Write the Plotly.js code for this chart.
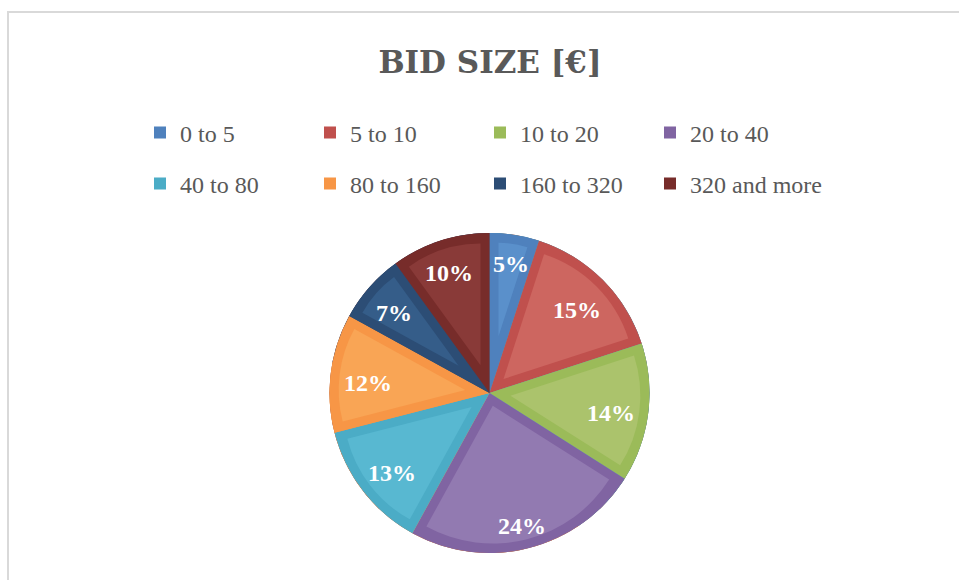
<!DOCTYPE html>
<html>
<head>
<meta charset="utf-8">
<script src="https://cdn.plot.ly/plotly-3.0.1.min.js"></script>
<style>
  html, body { margin: 0; padding: 0; background: #ffffff; }
  #chart { width: 959px; height: 580px; }
</style>
</head>
<body>
<div id="chart"></div>
<script>
// ---- data ----
const titleText = 'BID SIZE [€]';
const labels = ['0 to 5', '5 to 10', '10 to 20', '20 to 40', '40 to 80', '80 to 160', '160 to 320', '320 and more'];
const values = [5, 15, 14, 24, 13, 12, 7, 10];
const bandColors = ['#4F81BD', '#C0504D', '#9BBB59', '#8064A2', '#4BACC6', '#F79646', '#2C4D75', '#772C2A'];
const fillColors = ['#5A90CB', '#CD6660', '#ABC36C', '#927AB1', '#58B8D1', '#F9A555', '#355D89', '#893A38'];

// ---- geometry (figure pixels) ----
const W = 959, H = 580;
const CX = 489.5, CY = 393, R = 160, BAND = 9;
const LABEL_SIZE = 24, LABEL_EDGE = 12, LABEL_DY = 5;
const LEG_X = 140, LEG_STEP = 170;

function dom(cx, cy, r) {
  return { x: [(cx - r) / W, (cx + r) / W], y: [(H - cy - r) / H, (H - cy + r) / H] };
}

const total = values.reduce((a, b) => a + b, 0);
const mainDomain = dom(CX, CY, R);
const serif = '"Liberation Serif", "Times New Roman", serif';

const traces = [];
const annotations = [];

// hidden helper pies (covered by the main pie): they feed the 2nd legend row
traces.push({
  type: 'pie', labels: labels.slice(7), values: values.slice(7),
  marker: { colors: bandColors.slice(7), line: { width: 0 } },
  sort: false, direction: 'clockwise', rotation: 0,
  domain: mainDomain, textinfo: 'none', hoverinfo: 'skip',
  legend: 'legend3', legendgroup: 'g'
});
traces.push({
  type: 'pie', labels: labels.slice(4, 7), values: values.slice(4, 7),
  marker: { colors: bandColors.slice(4, 7), line: { width: 0 } },
  sort: false, direction: 'clockwise', rotation: 0,
  domain: mainDomain, textinfo: 'none', hoverinfo: 'skip',
  legend: 'legend2', legendgroup: 'g'
});

// main pie (band colour = frame of every slice)
traces.push({
  type: 'pie', labels: labels, values: values,
  marker: { colors: bandColors, line: { width: 0 } },
  sort: false, direction: 'clockwise', rotation: 0,
  domain: mainDomain, textinfo: 'none', hoverinfo: 'label+percent',
  legend: 'legend', legendgroup: 'g'
});

// inset lighter slices (bevel look) + percentage labels
let cum = 0;
values.forEach((v, i) => {
  const a0 = cum / total * 360;
  const span = v / total * 360;
  cum += v;
  const mid = (a0 + span / 2) * Math.PI / 180;
  const s = BAND / Math.sin((span / 2) * Math.PI / 180);
  const r = R - BAND - s;
  const cx = CX + s * Math.sin(mid);
  const cy = CY - s * Math.cos(mid);
  traces.push({
    type: 'pie', labels: [labels[i], 'rest'], values: [v, total - v],
    marker: { colors: [fillColors[i], 'rgba(0,0,0,0)'], line: { width: 0 } },
    sort: false, direction: 'clockwise', rotation: a0,
    domain: dom(cx, cy, r), textinfo: 'none', hoverinfo: 'skip',
    showlegend: false
  });

  const txt = Math.round(v / total * 100) + '%';
  const halfW = (txt.length - 1) * LABEL_SIZE * 0.25 + LABEL_SIZE * 0.5;
  const halfH = 10;
  const ext = halfW * Math.abs(Math.sin(mid)) + halfH * Math.abs(Math.cos(mid));
  const rho = R - LABEL_EDGE - ext;
  annotations.push({
    text: '<b>' + txt + '</b>', showarrow: false, xref: 'paper', yref: 'paper',
    x: (CX + rho * Math.sin(mid)) / W, y: 1 - (CY - rho * Math.cos(mid) + LABEL_DY) / H,
    xanchor: 'center', yanchor: 'middle',
    font: { family: serif, size: LABEL_SIZE, color: '#ffffff' }
  });
});

const legendCommon = {
  orientation: 'h', xanchor: 'left', yanchor: 'middle',
  x: LEG_X / W, entrywidth: LEG_STEP - 45, entrywidthmode: 'pixels',
  font: { family: serif, size: 24, color: '#595959' },
  bgcolor: 'rgba(0,0,0,0)', borderwidth: 0, traceorder: 'normal'
};

const layout = {
  width: W, height: H,
  margin: { l: 0, r: 0, t: 0, b: 0, pad: 0 },
  paper_bgcolor: '#ffffff',
  title: {
    text: titleText, x: 490 / W, xanchor: 'center', xref: 'paper',
    y: 1 - 62 / H, yanchor: 'middle', yref: 'container',
    font: { family: '"DejaVu Serif", serif', size: 31, color: '#595959', weight: 'bold' }
  },
  legend: Object.assign({}, legendCommon, { y: 1 - 133 / H }),
  legend2: Object.assign({}, legendCommon, { y: 1 - 184 / H }),
  legend3: Object.assign({}, legendCommon, { y: 1 - 184 / H, x: (LEG_X + 3 * LEG_STEP) / W, entrywidth: 170 }),
  annotations: annotations,
  shapes: [
    { type: 'line', xref: 'paper', yref: 'paper', x0: 8 / W, x1: 8 / W, y0: 0, y1: 1 - 11 / H,
      line: { color: '#D9D9D9', width: 2 } },
    { type: 'line', xref: 'paper', yref: 'paper', x0: 7 / W, x1: 1, y0: 1 - 12 / H, y1: 1 - 12 / H,
      line: { color: '#D9D9D9', width: 2 } }
  ],
  showlegend: true
};

Plotly.newPlot('chart', traces, layout, { displayModeBar: false, staticPlot: true });
</script>
</body>
</html>
